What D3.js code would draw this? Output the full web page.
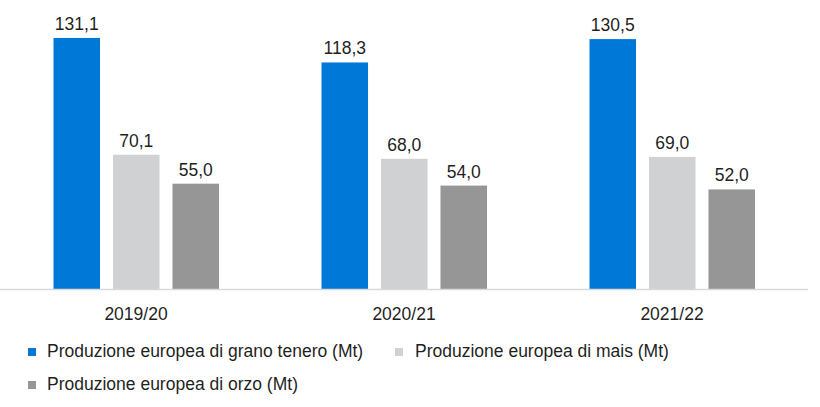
<!DOCTYPE html>
<html>
<head>
<meta charset="utf-8">
<script src="https://cdn.jsdelivr.net/npm/d3@7"></script>
<style>
  body { margin: 0; background: #fff; }
  text { font-family: "Liberation Sans", Arial, sans-serif; fill: #1f1f1f; }
</style>
</head>
<body>
<div id="chart"></div>
<script>
var width = 820;
var height = 407;

// data
var years = ["2019/20", "2020/21", "2021/22"];
var seriesNames = [
  "Produzione europea di grano tenero (Mt)",
  "Produzione europea di mais (Mt)",
  "Produzione europea di orzo (Mt)"
];
var grano = [131.1, 118.3, 130.5];
var mais = [70.1, 68.0, 69.0];
var orzo = [55.0, 54.0, 52.0];
var colors = ["#0078d7", "#d0d1d3", "#969696"];

var seriesValues = [grano, mais, orzo];
var rows = years.map(function (y, i) {
  return { year: y, values: seriesValues.map(function (s, k) { return { k: k, v: s[i] }; }) };
});

var svg = d3.select("#chart").append("svg")
  .attr("width", width)
  .attr("height", height);

var baseline = 289;
var y = d3.scaleLinear().domain([0, 140]).range([baseline, baseline - 140 * 1.915]);

var x0 = d3.scaleBand().domain(years).range([2, 806]).padding(0);
var x1 = d3.scaleBand().domain([0, 1, 2]).range([51.5, 217]).paddingInner(0.218).paddingOuter(0);

var fmt = function (v) { return d3.format(".1f")(v).replace(".", ","); };

var groups = svg.selectAll("g.grp")
  .data(rows)
  .enter()
  .append("g")
  .attr("class", "grp")
  .attr("transform", function (d) { return "translate(" + x0(d.year) + ",0)"; });

groups.selectAll("rect")
  .data(function (d) { return d.values; })
  .enter()
  .append("rect")
  .attr("x", function (d) { return x1(d.k); })
  .attr("width", x1.bandwidth())
  .attr("y", function (d) { return y(d.v); })
  .attr("height", function (d) { return baseline - y(d.v); })
  .attr("fill", function (d) { return colors[d.k]; });

groups.selectAll("text.val")
  .data(function (d) { return d.values; })
  .enter()
  .append("text")
  .attr("class", "val")
  .attr("x", function (d) { return x1(d.k) + x1.bandwidth() / 2; })
  .attr("y", function (d) { return y(d.v) - 8; })
  .attr("text-anchor", "middle")
  .style("font-size", "17.5px")
  .text(function (d) { return fmt(d.v); });

// category axis
var xAxis = d3.axisBottom(x0).tickSize(0).tickPadding(18);
var ax = svg.append("g")
  .attr("transform", "translate(0," + (baseline + 0.5) + ")")
  .call(xAxis);
ax.select(".domain").attr("d", "M0,0H808").attr("stroke", "#d9d9d9").attr("stroke-width", 1.3);
ax.selectAll(".tick text")
  .style("font-size", "17.5px")
  .style("font-family", "Liberation Sans, Arial, sans-serif")
  .attr("fill", "#1f1f1f");

// legend
var legendPos = [[28, 357], [395, 357], [28, 390]];
var legend = svg.selectAll("g.leg")
  .data(seriesNames)
  .enter()
  .append("g")
  .attr("class", "leg")
  .attr("transform", function (d, i) { return "translate(" + legendPos[i][0] + "," + legendPos[i][1] + ")"; });

legend.append("rect")
  .attr("x", 0)
  .attr("y", -9)
  .attr("width", 8)
  .attr("height", 8)
  .attr("fill", function (d, i) { return colors[i]; });

legend.append("text")
  .attr("x", function (d, i) { return i == 1 ? 20 : 19; })
  .attr("y", 0)
  .style("font-size", "17.5px")
  .text(function (d) { return d; });
</script>
</body>
</html>
